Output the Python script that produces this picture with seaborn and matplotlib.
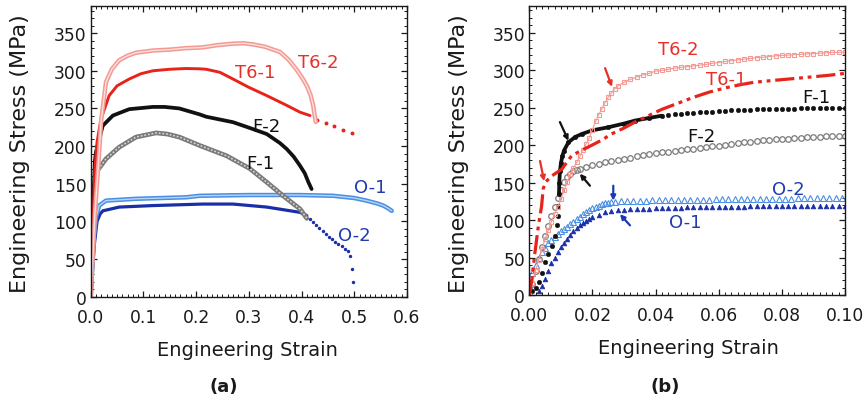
import numpy as np
import pandas as pd
import seaborn as sns
import matplotlib
matplotlib.use("Agg")
import matplotlib.pyplot as plt
from matplotlib.ticker import MultipleLocator

sns.set_style("ticks")
plt.rcParams['font.family'] = ['DejaVu Sans']

# ---------------- Panel (a) data: full curves ----------------
a_T62_x = [0, 0.008, 0.015, 0.02, 0.029, 0.04, 0.054, 0.07, 0.086, 0.12, 0.149, 0.18, 0.212, 0.24, 0.27, 0.29, 0.308, 0.33, 0.359, 0.375, 0.39, 0.40, 0.41, 0.417, 0.422, 0.425, 0.427]
a_T62_y = [0, 110, 180, 235, 285, 302, 314, 320, 324, 327, 328, 330, 331, 334, 336, 336.5, 335, 332, 325, 315, 302, 292, 280, 268, 254, 240, 232]

a_T61_x = [0, 0.004, 0.008, 0.012, 0.0195, 0.035, 0.05, 0.073, 0.095, 0.118, 0.15, 0.181, 0.207, 0.219, 0.245, 0.27, 0.30, 0.334, 0.372, 0.397, 0.416]
a_T61_y = [0, 100, 170, 205, 236, 267, 280, 289, 296, 300, 302, 303, 302.6, 302, 298, 289, 278, 267, 254, 245, 240.5]
a_T61_tail_x = [0.429, 0.446, 0.462, 0.478, 0.495]
a_T61_tail_y = [235, 230, 226, 222, 218]

a_F2_x = [0, 0.004, 0.008, 0.01, 0.0228, 0.042, 0.073, 0.118, 0.14, 0.168, 0.207, 0.219, 0.27, 0.302, 0.334, 0.359, 0.372, 0.385, 0.397, 0.406, 0.413, 0.419]
a_F2_y = [0, 110, 180, 192, 227, 240.5, 249, 252, 252, 250, 242, 239, 231.7, 224, 216, 204, 196, 186, 174, 164, 152, 143]

a_F1_x = [0, 0.004, 0.008, 0.01, 0.029, 0.054, 0.086, 0.124, 0.145, 0.168, 0.207, 0.258, 0.302, 0.334, 0.365, 0.397, 0.41]
a_F1_y = [0, 100, 150, 165, 183, 198.5, 212, 217.5, 216, 212, 200.7, 187, 170, 152, 134, 116.5, 104]

a_O1_x = [0, 0.003, 0.006, 0.01, 0.016, 0.029, 0.086, 0.181, 0.207, 0.3, 0.397, 0.46, 0.5, 0.523, 0.545, 0.555, 0.565, 0.571]
a_O1_y = [0, 40, 80, 105, 121, 127.6, 130, 132, 134, 135, 135, 134, 131, 127.6, 123.5, 121, 117, 114]

a_O2_x = [0, 0.003, 0.007, 0.012, 0.018, 0.023, 0.054, 0.118, 0.212, 0.27, 0.334, 0.397, 0.41]
a_O2_y = [0, 30, 70, 100, 110, 114, 119, 121, 123, 123, 119, 112, 107.6]
a_O2_tail_x = [0.416, 0.422, 0.428, 0.434, 0.44, 0.446, 0.452, 0.458, 0.464, 0.47, 0.476, 0.482, 0.488, 0.492, 0.495, 0.498]
a_O2_tail_y = [103, 99, 95, 91, 87, 83, 79, 76, 73, 70, 67, 64, 61, 54.5, 37, 19]

# ---------------- Panel (b) data: small-strain region ----------------
b_T62_x = [0, 0.001, 0.002, 0.003, 0.004, 0.005, 0.006, 0.007, 0.008, 0.009, 0.010, 0.011, 0.012, 0.013, 0.014, 0.015,
           0.016, 0.017, 0.018, 0.019, 0.020, 0.021, 0.022, 0.023, 0.024, 0.025, 0.026, 0.027, 0.028, 0.030, 0.032,
           0.034, 0.036, 0.038, 0.040, 0.042, 0.044, 0.046, 0.048, 0.050, 0.052, 0.054, 0.056, 0.058, 0.060, 0.062,
           0.064, 0.066, 0.068, 0.070, 0.072, 0.074, 0.076, 0.078, 0.080, 0.082, 0.084, 0.086, 0.088, 0.090, 0.092,
           0.094, 0.096, 0.098, 0.100]
b_T62_y = [0, 16, 33, 47, 61, 75, 87, 98, 108, 117, 128, 140, 151, 161, 170, 177,
           185, 194, 202, 210, 221, 232, 241, 249, 257, 264, 270, 275, 279, 284, 288,
           291, 294, 296, 299, 300, 301.5, 303, 304, 305, 306, 307, 308, 309.5, 310.5, 312,
           313, 314, 315, 316, 317, 317.5, 318.5, 319.5, 320, 320.5, 321, 321.5, 322, 322.5, 323,
           323.5, 324, 324, 324.5]

b_T61_x = [0, 0.0008, 0.0018, 0.0029, 0.0039, 0.0044, 0.0052, 0.0071, 0.0085, 0.0103, 0.012, 0.0134, 0.016, 0.0198,
           0.023, 0.026, 0.030, 0.0335, 0.038, 0.042, 0.047, 0.052, 0.057, 0.0625, 0.067, 0.071, 0.077, 0.0836,
           0.09, 0.095, 0.1]
b_T61_y = [0, 21, 57, 93, 119, 142, 151, 159, 163, 168, 178, 186, 192, 200,
           207, 215, 223, 231, 240, 248, 256, 264, 271, 277, 281, 284, 286.5, 289,
           291.5, 293.5, 296]

b_F1_x = [0, 0.001, 0.002, 0.003, 0.004, 0.005, 0.006, 0.0071, 0.008, 0.0087, 0.009, 0.0092, 0.0094, 0.0095,
          0.0097, 0.0100, 0.0105, 0.011, 0.0124, 0.0145, 0.0166, 0.020, 0.025, 0.030, 0.0335, 0.038, 0.042,
          0.044, 0.046, 0.048, 0.050, 0.052, 0.054, 0.056, 0.058, 0.060, 0.062, 0.064, 0.066, 0.068, 0.070,
          0.072, 0.074, 0.076, 0.078, 0.080, 0.082, 0.084, 0.086, 0.088, 0.090, 0.092, 0.094, 0.096, 0.098, 0.100]
b_F1_y = [0, 5, 10, 18, 30, 44, 55, 66, 79, 93, 106, 119, 135, 150,
          165, 176, 186, 193, 204, 211, 215, 220, 224, 229, 233, 236.5, 239.5,
          240.5, 241.5, 242, 242.5, 243, 244, 244.5, 245, 245.5, 246, 246.5, 247, 247, 247.5,
          248, 248, 248.5, 248.5, 249, 249, 249, 249.5, 249.5, 249.5, 250, 250, 250, 250, 250]

b_F2_x = [0, 0.001, 0.002, 0.003, 0.004, 0.005, 0.006, 0.007, 0.008, 0.009, 0.010, 0.011, 0.012, 0.013, 0.014,
          0.015, 0.016, 0.018, 0.020, 0.022, 0.024, 0.026, 0.028, 0.030, 0.032, 0.034, 0.036, 0.038, 0.040,
          0.042, 0.044, 0.046, 0.048, 0.050, 0.052, 0.054, 0.056, 0.058, 0.060, 0.062, 0.064, 0.066, 0.068,
          0.070, 0.072, 0.074, 0.076, 0.078, 0.080, 0.082, 0.084, 0.086, 0.088, 0.090, 0.092, 0.094, 0.096,
          0.098, 0.100]
b_F2_y = [0, 15, 32, 48, 64, 79, 92, 105, 117, 129, 140, 151, 158, 162, 165,
          167, 168.5, 171, 173, 175, 177, 178.5, 180, 182, 183.5, 185, 186.5, 188, 189.5,
          190.5, 191.5, 192.5, 193.5, 194.5, 195.5, 196.5, 197.5, 198.5, 199.5, 201, 202, 203, 204,
          205, 206, 206.5, 207.5, 208, 208.5, 209, 209.5, 210, 210.5, 211, 211.5, 212, 212.5,
          213, 213]

b_O2_x = [0, 0.001, 0.002, 0.003, 0.004, 0.005, 0.006, 0.007, 0.008, 0.009, 0.010, 0.011, 0.012, 0.013, 0.014,
          0.015, 0.016, 0.017, 0.018, 0.019, 0.020, 0.021, 0.022, 0.023, 0.024, 0.025, 0.026, 0.027, 0.029,
          0.031, 0.033, 0.035, 0.037, 0.039, 0.041, 0.043, 0.045, 0.047, 0.049, 0.051, 0.053, 0.055, 0.057,
          0.059, 0.061, 0.063, 0.065, 0.067, 0.069, 0.071, 0.073, 0.075, 0.077, 0.079, 0.081, 0.083, 0.085,
          0.087, 0.089, 0.091, 0.093, 0.095, 0.097, 0.099]
b_O2_y = [0, 30, 40, 50, 57, 63, 69, 74, 78, 81, 85, 88, 91, 95, 98,
          101, 104, 108, 111, 113, 116, 118, 119.5, 121, 122.5, 123.5, 124, 124.6, 125,
          125.5, 125.7, 126, 126, 126.5, 126.5, 127, 127, 127, 127, 127.5, 127.5, 127.5, 127.5,
          128, 128, 128, 128, 128, 128, 128, 128, 128.5, 128.5, 128.5, 128.5, 128.5, 129,
          129, 129, 129, 129, 129, 129, 129]

b_O1_x = [0.003, 0.004, 0.005, 0.006, 0.007, 0.008, 0.009, 0.010, 0.011, 0.012, 0.013, 0.014, 0.015, 0.016,
          0.017, 0.018, 0.019, 0.020, 0.022, 0.024, 0.026, 0.028, 0.030, 0.032, 0.034, 0.036, 0.038, 0.040,
          0.042, 0.044, 0.046, 0.048, 0.050, 0.052, 0.054, 0.056, 0.058, 0.060, 0.062, 0.064, 0.066, 0.068,
          0.070, 0.072, 0.074, 0.076, 0.078, 0.080, 0.082, 0.084, 0.086, 0.088, 0.090, 0.092, 0.094, 0.096,
          0.098, 0.100]
b_O1_y = [5, 12, 21, 32, 43, 50, 57, 64, 70, 75, 80, 85, 89, 93,
          96, 99, 102, 104, 107.5, 110.5, 112.5, 113.5, 114, 114.5, 115, 115, 115.5, 116,
          116, 116.5, 116.5, 116.5, 117, 117, 117, 117.5, 117.5, 117.5, 118, 118, 118, 118,
          118.5, 118.5, 118.5, 118.5, 118.5, 119, 119, 119, 119, 119, 119.5, 119.5, 119.5, 119.5,
          119.5, 119.5]

# labels: (text, x, y, colour)
a_labels = [("T6-2", 0.432, 312, "#e8302a"), ("T6-1", 0.312, 298, "#e8302a"),
            ("F-2", 0.334, 227, "#111111"), ("F-1", 0.321, 177, "#111111"),
            ("O-1", 0.53, 146, "#1f3bb0"), ("O-2", 0.501, 82, "#1f3bb0")]
b_labels = [("T6-2", 0.0472, 328, "#e8302a"), ("T6-1", 0.0625, 288, "#e8302a"),
            ("F-1", 0.091, 264, "#111111"), ("F-2", 0.0546, 212, "#111111"),
            ("O-2", 0.082, 142, "#1f3bb0"), ("O-1", 0.0493, 97, "#1f3bb0")]
# arrows: (x_start, y_start, x_end, y_end, colour)
b_arrows = [(0.0240, 303, 0.0262, 278, "#e8302a"),
            (0.0034, 179, 0.0047, 152, "#e8302a"),
            (0.0097, 231, 0.0124, 206, "#111111"),
            (0.0192, 146, 0.0160, 162, "#111111"),
            (0.0266, 146, 0.0266, 126, "#1a3ab0"),
            (0.0319, 93, 0.0287, 108, "#1a3ab0")]

C_T62 = "#f39a94"; C_T62_in = "#fde0dd"
C_T61 = "#e8231c"
C_F2 = "#111111"
C_F1 = "#7a7a7a"; C_F1_in = "#d9d9d9"
C_O1 = "#4b8fe2"; C_O1_in = "#b5d5f7"
C_O2 = "#1a2ea8"

W, H = 868, 406
fig = plt.figure(figsize=(W / 100, H / 100), dpi=100)
axA = fig.add_axes([90.7 / W, 1 - 297.7 / H, (407 - 90.7) / W, (297.7 - 7) / H])
axB = fig.add_axes([529.3 / W, 1 - 296 / H, (845 - 529.3) / W, (296 - 7) / H])


def ln(ax, x, y, **kw):
    sns.lineplot(x=x, y=y, ax=ax, estimator=None, sort=False, legend=False, **kw)


# ---- panel (a) ----
ln(axA, a_O2_x, a_O2_y, color=C_O2, lw=2.3)
sns.scatterplot(x=a_O2_tail_x, y=a_O2_tail_y, ax=axA, color=C_O2, s=6, linewidth=0, marker="o", legend=False)
ln(axA, a_O1_x, a_O1_y, color=C_O1, lw=3.2)
ln(axA, a_O1_x, a_O1_y, color=C_O1_in, lw=1.0)
ln(axA, a_F1_x, a_F1_y, color=C_F1, lw=3.4)
ln(axA, a_F1_x, a_F1_y, color=C_F1_in, lw=1.1, linestyle=(0, (1.2, 1.2)))
ln(axA, a_F2_x, a_F2_y, color=C_F2, lw=2.7)
ln(axA, a_T61_x, a_T61_y, color=C_T61, lw=2.1)
sns.scatterplot(x=a_T61_tail_x, y=a_T61_tail_y, ax=axA, color=C_T61, s=8, linewidth=0, marker="o", legend=False)
ln(axA, a_T62_x, a_T62_y, color=C_T62, lw=3.2)
ln(axA, a_T62_x, a_T62_y, color=C_T62_in, lw=1.0)

# ---- panel (b) ----
ln(axB, b_O1_x, b_O1_y, color=C_O2, lw=0, linestyle="none", marker="^", markersize=3.4,
   markerfacecolor=C_O2, markeredgecolor=C_O2, markeredgewidth=0.5)
ln(axB, b_O2_x, b_O2_y, color=C_O1, lw=0, linestyle="none", marker="^", markersize=4.0,
   markerfacecolor="none", markeredgecolor=C_O1, markeredgewidth=0.8)
ln(axB, b_F2_x, b_F2_y, color=C_F1, lw=0, linestyle="none", marker="o", markersize=4.0,
   markerfacecolor="none", markeredgecolor=C_F1, markeredgewidth=0.9)
ln(axB, b_F1_x, b_F1_y, color=C_F2, lw=0, linestyle="none", marker="o", markersize=3.3,
   markerfacecolor=C_F2, markeredgecolor=C_F2, markeredgewidth=0.3)
solid_x = [v for v in b_F1_x if 0.0094 <= v <= 0.042]
solid_y = [b_F1_y[b_F1_x.index(v)] for v in solid_x]
ln(axB, solid_x, solid_y, color=C_F2, lw=2.7)
ln(axB, b_T62_x, b_T62_y, color=C_T62, lw=0.8, marker="s", markersize=3.4,
   markerfacecolor="none", markeredgecolor=C_T62, markeredgewidth=0.8)
ln(axB, b_T61_x, b_T61_y, color=C_T61, lw=2.3, linestyle=(0, (6, 1.5, 1.2, 1.5, 1.2, 1.5)))

for ax in (axA, axB):
    ax.set_ylim(0, 386)
    ax.yaxis.set_major_locator(MultipleLocator(50))
    ax.yaxis.set_minor_locator(MultipleLocator(10))
    ax.tick_params(which="both", direction="in", top=True, right=True, labelsize=12.3, colors="#1a1a1a")
    ax.tick_params(which="major", length=4.5, width=0.9)
    ax.tick_params(which="minor", length=2.3, width=0.7)
    ax.tick_params(axis="x", pad=8)
    ax.tick_params(axis="y", pad=3)
    for sp in ax.spines.values():
        sp.set_visible(True)
        sp.set_linewidth(1.0)
        sp.set_color("#1a1a1a")
    ax.set_xlabel("Engineering Strain", fontsize=14, color="#1a1a1a")
    ax.set_ylabel("Engineering Stress (MPa)", fontsize=16, color="#1a1a1a")

axA.set_xlim(0, 0.6)
axA.xaxis.set_major_locator(MultipleLocator(0.1))
axA.xaxis.set_minor_locator(MultipleLocator(0.01))
axA.xaxis.set_major_formatter(matplotlib.ticker.FormatStrFormatter("%.1f"))
axB.set_xlim(0, 0.1)
axB.xaxis.set_major_locator(MultipleLocator(0.02))
axB.xaxis.set_minor_locator(MultipleLocator(0.002))
axB.xaxis.set_major_formatter(matplotlib.ticker.FormatStrFormatter("%.2f"))

axA.yaxis.set_label_coords(-0.192, 0.494)
axB.yaxis.set_label_coords(-0.190, 0.494)
axA.xaxis.set_label_coords(0.497, -0.150)
axB.xaxis.set_label_coords(0.503, -0.150)

for t, x, y, c in a_labels:
    axA.text(x, y, t, color=c, fontsize=13, ha="center", va="center")
for t, x, y, c in b_labels:
    axB.text(x, y, t, color=c, fontsize=13, ha="center", va="center")
for x0, y0, x1, y1, c in b_arrows:
    axB.annotate("", xy=(x1, y1), xytext=(x0, y0),
                 arrowprops=dict(arrowstyle="-|>", color=c, lw=1.6, mutation_scale=7, shrinkA=0, shrinkB=0))

fig.text(224 / W, 1 - 387 / H, "(a)", fontsize=13, fontweight="bold", ha="center", va="center", color="#1a1a1a")
fig.text(665 / W, 1 - 387 / H, "(b)", fontsize=13, fontweight="bold", ha="center", va="center", color="#1a1a1a")

fig.savefig("out.png", dpi=100)
